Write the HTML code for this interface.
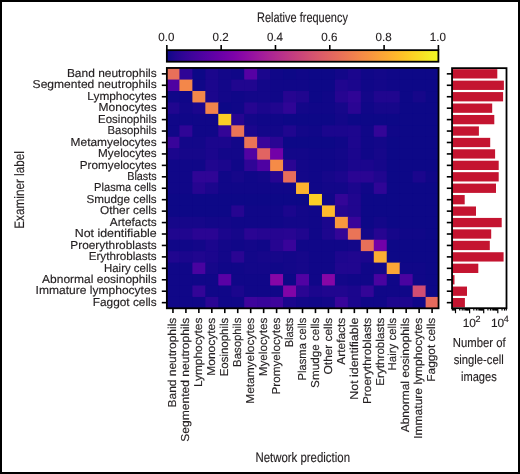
<!DOCTYPE html><html><head><meta charset="utf-8"><style>html,body{margin:0;padding:0;background:#fff;}svg{display:block;will-change:transform;}text{font-family:"Liberation Sans",sans-serif;text-rendering:geometricPrecision;fill:#231f20;stroke:#231f20;stroke-width:0.15px;}</style></head><body>
<svg width="520" height="474" viewBox="0 0 520 474">
<rect x="0" y="0" width="520" height="474" fill="#fff"/>
<defs><linearGradient id="g" x1="0" x2="1" y1="0" y2="0">
<stop offset="0.0000" stop-color="#0d0887"/>
<stop offset="0.0312" stop-color="#220690"/>
<stop offset="0.0625" stop-color="#310597"/>
<stop offset="0.0938" stop-color="#3f049c"/>
<stop offset="0.1250" stop-color="#4c02a1"/>
<stop offset="0.1562" stop-color="#5901a5"/>
<stop offset="0.1875" stop-color="#6600a7"/>
<stop offset="0.2188" stop-color="#7201a8"/>
<stop offset="0.2500" stop-color="#7e03a8"/>
<stop offset="0.2812" stop-color="#8a09a5"/>
<stop offset="0.3125" stop-color="#9511a1"/>
<stop offset="0.3438" stop-color="#a01a9c"/>
<stop offset="0.3750" stop-color="#aa2395"/>
<stop offset="0.4062" stop-color="#b32c8e"/>
<stop offset="0.4375" stop-color="#bc3587"/>
<stop offset="0.4688" stop-color="#c43e7f"/>
<stop offset="0.5000" stop-color="#cc4778"/>
<stop offset="0.5312" stop-color="#d35171"/>
<stop offset="0.5625" stop-color="#da5a6a"/>
<stop offset="0.5938" stop-color="#e06363"/>
<stop offset="0.6250" stop-color="#e66c5c"/>
<stop offset="0.6562" stop-color="#eb7655"/>
<stop offset="0.6875" stop-color="#f0804e"/>
<stop offset="0.7188" stop-color="#f58b47"/>
<stop offset="0.7500" stop-color="#f89540"/>
<stop offset="0.7812" stop-color="#fba139"/>
<stop offset="0.8125" stop-color="#fdac33"/>
<stop offset="0.8438" stop-color="#feb82c"/>
<stop offset="0.8750" stop-color="#fdc527"/>
<stop offset="0.9062" stop-color="#fcd225"/>
<stop offset="0.9375" stop-color="#f8df25"/>
<stop offset="0.9688" stop-color="#f4ed27"/>
<stop offset="1.0000" stop-color="#f0f921"/>
</linearGradient></defs>
<text x="257" y="21.9" font-size="13.7" textLength="90.9" lengthAdjust="spacingAndGlyphs">Relative frequency</text>
<rect x="166.85" y="50.15" width="271.55" height="11.55" fill="url(#g)" stroke="#000" stroke-width="1.8"/>
<line x1="166.85" x2="166.85" y1="45" y2="50.15" stroke="#000" stroke-width="1.6"/>
<text x="166.35" y="40.8" font-size="11.9" text-anchor="middle" textLength="16.1" lengthAdjust="spacingAndGlyphs">0.0</text>
<line x1="221.16" x2="221.16" y1="45" y2="50.15" stroke="#000" stroke-width="1.6"/>
<text x="220.66" y="40.8" font-size="11.9" text-anchor="middle" textLength="16.1" lengthAdjust="spacingAndGlyphs">0.2</text>
<line x1="275.47" x2="275.47" y1="45" y2="50.15" stroke="#000" stroke-width="1.6"/>
<text x="274.97" y="40.8" font-size="11.9" text-anchor="middle" textLength="16.1" lengthAdjust="spacingAndGlyphs">0.4</text>
<line x1="329.78" x2="329.78" y1="45" y2="50.15" stroke="#000" stroke-width="1.6"/>
<text x="329.28" y="40.8" font-size="11.9" text-anchor="middle" textLength="16.1" lengthAdjust="spacingAndGlyphs">0.6</text>
<line x1="384.09" x2="384.09" y1="45" y2="50.15" stroke="#000" stroke-width="1.6"/>
<text x="383.59" y="40.8" font-size="11.9" text-anchor="middle" textLength="16.1" lengthAdjust="spacingAndGlyphs">0.8</text>
<line x1="438.40" x2="438.40" y1="45" y2="50.15" stroke="#000" stroke-width="1.6"/>
<text x="437.90" y="40.8" font-size="11.9" text-anchor="middle" textLength="16.1" lengthAdjust="spacingAndGlyphs">1.0</text>
<rect x="166.470" y="68.130" width="272.097" height="240.240" fill="#0d0887"/>
<rect x="166.470" y="68.130" width="13.557" height="12.040" fill="#e87059"/>
<rect x="179.427" y="68.130" width="13.557" height="12.040" fill="#2f0596"/>
<rect x="192.384" y="68.130" width="13.557" height="12.040" fill="#0d0887"/>
<rect x="205.341" y="68.130" width="13.557" height="12.040" fill="#1b068d"/>
<rect x="218.298" y="68.130" width="13.557" height="12.040" fill="#130789"/>
<rect x="231.255" y="68.130" width="13.557" height="12.040" fill="#100788"/>
<rect x="244.212" y="68.130" width="13.557" height="12.040" fill="#5601a4"/>
<rect x="257.169" y="68.130" width="13.557" height="12.040" fill="#1b068d"/>
<rect x="270.126" y="68.130" width="13.557" height="12.040" fill="#100788"/>
<rect x="283.083" y="68.130" width="13.557" height="12.040" fill="#0d0887"/>
<rect x="296.040" y="68.130" width="13.557" height="12.040" fill="#100788"/>
<rect x="308.997" y="68.130" width="13.557" height="12.040" fill="#0d0887"/>
<rect x="321.954" y="68.130" width="13.557" height="12.040" fill="#0d0887"/>
<rect x="334.911" y="68.130" width="13.557" height="12.040" fill="#130789"/>
<rect x="347.868" y="68.130" width="13.557" height="12.040" fill="#1b068d"/>
<rect x="360.825" y="68.130" width="13.557" height="12.040" fill="#100788"/>
<rect x="373.782" y="68.130" width="13.557" height="12.040" fill="#130789"/>
<rect x="386.739" y="68.130" width="13.557" height="12.040" fill="#100788"/>
<rect x="399.696" y="68.130" width="13.557" height="12.040" fill="#0d0887"/>
<rect x="412.653" y="68.130" width="13.557" height="12.040" fill="#0d0887"/>
<rect x="425.610" y="68.130" width="12.957" height="12.040" fill="#0d0887"/>
<rect x="166.470" y="79.570" width="13.557" height="12.040" fill="#4e02a2"/>
<rect x="179.427" y="79.570" width="13.557" height="12.040" fill="#f3874a"/>
<rect x="192.384" y="79.570" width="13.557" height="12.040" fill="#100788"/>
<rect x="205.341" y="79.570" width="13.557" height="12.040" fill="#1b068d"/>
<rect x="218.298" y="79.570" width="13.557" height="12.040" fill="#130789"/>
<rect x="231.255" y="79.570" width="13.557" height="12.040" fill="#20068f"/>
<rect x="244.212" y="79.570" width="13.557" height="12.040" fill="#20068f"/>
<rect x="257.169" y="79.570" width="13.557" height="12.040" fill="#130789"/>
<rect x="270.126" y="79.570" width="13.557" height="12.040" fill="#100788"/>
<rect x="283.083" y="79.570" width="13.557" height="12.040" fill="#100788"/>
<rect x="296.040" y="79.570" width="13.557" height="12.040" fill="#100788"/>
<rect x="308.997" y="79.570" width="13.557" height="12.040" fill="#0d0887"/>
<rect x="321.954" y="79.570" width="13.557" height="12.040" fill="#0d0887"/>
<rect x="334.911" y="79.570" width="13.557" height="12.040" fill="#20068f"/>
<rect x="347.868" y="79.570" width="13.557" height="12.040" fill="#1b068d"/>
<rect x="360.825" y="79.570" width="13.557" height="12.040" fill="#100788"/>
<rect x="373.782" y="79.570" width="13.557" height="12.040" fill="#130789"/>
<rect x="386.739" y="79.570" width="13.557" height="12.040" fill="#100788"/>
<rect x="399.696" y="79.570" width="13.557" height="12.040" fill="#0d0887"/>
<rect x="412.653" y="79.570" width="13.557" height="12.040" fill="#0d0887"/>
<rect x="425.610" y="79.570" width="12.957" height="12.040" fill="#0d0887"/>
<rect x="166.470" y="91.010" width="13.557" height="12.040" fill="#100788"/>
<rect x="179.427" y="91.010" width="13.557" height="12.040" fill="#100788"/>
<rect x="192.384" y="91.010" width="13.557" height="12.040" fill="#f3874a"/>
<rect x="205.341" y="91.010" width="13.557" height="12.040" fill="#1b068d"/>
<rect x="218.298" y="91.010" width="13.557" height="12.040" fill="#130789"/>
<rect x="231.255" y="91.010" width="13.557" height="12.040" fill="#100788"/>
<rect x="244.212" y="91.010" width="13.557" height="12.040" fill="#130789"/>
<rect x="257.169" y="91.010" width="13.557" height="12.040" fill="#130789"/>
<rect x="270.126" y="91.010" width="13.557" height="12.040" fill="#100788"/>
<rect x="283.083" y="91.010" width="13.557" height="12.040" fill="#260591"/>
<rect x="296.040" y="91.010" width="13.557" height="12.040" fill="#20068f"/>
<rect x="308.997" y="91.010" width="13.557" height="12.040" fill="#0d0887"/>
<rect x="321.954" y="91.010" width="13.557" height="12.040" fill="#100788"/>
<rect x="334.911" y="91.010" width="13.557" height="12.040" fill="#260591"/>
<rect x="347.868" y="91.010" width="13.557" height="12.040" fill="#2f0596"/>
<rect x="360.825" y="91.010" width="13.557" height="12.040" fill="#130789"/>
<rect x="373.782" y="91.010" width="13.557" height="12.040" fill="#20068f"/>
<rect x="386.739" y="91.010" width="13.557" height="12.040" fill="#20068f"/>
<rect x="399.696" y="91.010" width="13.557" height="12.040" fill="#0d0887"/>
<rect x="412.653" y="91.010" width="13.557" height="12.040" fill="#16078a"/>
<rect x="425.610" y="91.010" width="12.957" height="12.040" fill="#0d0887"/>
<rect x="166.470" y="102.450" width="13.557" height="12.040" fill="#20068f"/>
<rect x="179.427" y="102.450" width="13.557" height="12.040" fill="#130789"/>
<rect x="192.384" y="102.450" width="13.557" height="12.040" fill="#1b068d"/>
<rect x="205.341" y="102.450" width="13.557" height="12.040" fill="#f2844b"/>
<rect x="218.298" y="102.450" width="13.557" height="12.040" fill="#0d0887"/>
<rect x="231.255" y="102.450" width="13.557" height="12.040" fill="#100788"/>
<rect x="244.212" y="102.450" width="13.557" height="12.040" fill="#260591"/>
<rect x="257.169" y="102.450" width="13.557" height="12.040" fill="#1b068d"/>
<rect x="270.126" y="102.450" width="13.557" height="12.040" fill="#20068f"/>
<rect x="283.083" y="102.450" width="13.557" height="12.040" fill="#2f0596"/>
<rect x="296.040" y="102.450" width="13.557" height="12.040" fill="#130789"/>
<rect x="308.997" y="102.450" width="13.557" height="12.040" fill="#100788"/>
<rect x="321.954" y="102.450" width="13.557" height="12.040" fill="#100788"/>
<rect x="334.911" y="102.450" width="13.557" height="12.040" fill="#16078a"/>
<rect x="347.868" y="102.450" width="13.557" height="12.040" fill="#2a0593"/>
<rect x="360.825" y="102.450" width="13.557" height="12.040" fill="#100788"/>
<rect x="373.782" y="102.450" width="13.557" height="12.040" fill="#16078a"/>
<rect x="386.739" y="102.450" width="13.557" height="12.040" fill="#16078a"/>
<rect x="399.696" y="102.450" width="13.557" height="12.040" fill="#0d0887"/>
<rect x="412.653" y="102.450" width="13.557" height="12.040" fill="#0d0887"/>
<rect x="425.610" y="102.450" width="12.957" height="12.040" fill="#0d0887"/>
<rect x="166.470" y="113.890" width="13.557" height="12.040" fill="#100788"/>
<rect x="179.427" y="113.890" width="13.557" height="12.040" fill="#100788"/>
<rect x="192.384" y="113.890" width="13.557" height="12.040" fill="#100788"/>
<rect x="205.341" y="113.890" width="13.557" height="12.040" fill="#100788"/>
<rect x="218.298" y="113.890" width="13.557" height="12.040" fill="#fcce25"/>
<rect x="231.255" y="113.890" width="13.557" height="12.040" fill="#260591"/>
<rect x="244.212" y="113.890" width="13.557" height="12.040" fill="#130789"/>
<rect x="257.169" y="113.890" width="13.557" height="12.040" fill="#100788"/>
<rect x="270.126" y="113.890" width="13.557" height="12.040" fill="#100788"/>
<rect x="283.083" y="113.890" width="13.557" height="12.040" fill="#0d0887"/>
<rect x="296.040" y="113.890" width="13.557" height="12.040" fill="#0d0887"/>
<rect x="308.997" y="113.890" width="13.557" height="12.040" fill="#0d0887"/>
<rect x="321.954" y="113.890" width="13.557" height="12.040" fill="#0d0887"/>
<rect x="334.911" y="113.890" width="13.557" height="12.040" fill="#130789"/>
<rect x="347.868" y="113.890" width="13.557" height="12.040" fill="#0d0887"/>
<rect x="360.825" y="113.890" width="13.557" height="12.040" fill="#0d0887"/>
<rect x="373.782" y="113.890" width="13.557" height="12.040" fill="#0d0887"/>
<rect x="386.739" y="113.890" width="13.557" height="12.040" fill="#0d0887"/>
<rect x="399.696" y="113.890" width="13.557" height="12.040" fill="#0d0887"/>
<rect x="412.653" y="113.890" width="13.557" height="12.040" fill="#0d0887"/>
<rect x="425.610" y="113.890" width="12.957" height="12.040" fill="#0d0887"/>
<rect x="166.470" y="125.330" width="13.557" height="12.040" fill="#100788"/>
<rect x="179.427" y="125.330" width="13.557" height="12.040" fill="#2f0596"/>
<rect x="192.384" y="125.330" width="13.557" height="12.040" fill="#100788"/>
<rect x="205.341" y="125.330" width="13.557" height="12.040" fill="#100788"/>
<rect x="218.298" y="125.330" width="13.557" height="12.040" fill="#330597"/>
<rect x="231.255" y="125.330" width="13.557" height="12.040" fill="#ea7457"/>
<rect x="244.212" y="125.330" width="13.557" height="12.040" fill="#1b068d"/>
<rect x="257.169" y="125.330" width="13.557" height="12.040" fill="#130789"/>
<rect x="270.126" y="125.330" width="13.557" height="12.040" fill="#130789"/>
<rect x="283.083" y="125.330" width="13.557" height="12.040" fill="#20068f"/>
<rect x="296.040" y="125.330" width="13.557" height="12.040" fill="#130789"/>
<rect x="308.997" y="125.330" width="13.557" height="12.040" fill="#100788"/>
<rect x="321.954" y="125.330" width="13.557" height="12.040" fill="#1b068d"/>
<rect x="334.911" y="125.330" width="13.557" height="12.040" fill="#1b068d"/>
<rect x="347.868" y="125.330" width="13.557" height="12.040" fill="#1d068e"/>
<rect x="360.825" y="125.330" width="13.557" height="12.040" fill="#100788"/>
<rect x="373.782" y="125.330" width="13.557" height="12.040" fill="#330597"/>
<rect x="386.739" y="125.330" width="13.557" height="12.040" fill="#100788"/>
<rect x="399.696" y="125.330" width="13.557" height="12.040" fill="#0d0887"/>
<rect x="412.653" y="125.330" width="13.557" height="12.040" fill="#0d0887"/>
<rect x="425.610" y="125.330" width="12.957" height="12.040" fill="#0d0887"/>
<rect x="166.470" y="136.770" width="13.557" height="12.040" fill="#38049a"/>
<rect x="179.427" y="136.770" width="13.557" height="12.040" fill="#130789"/>
<rect x="192.384" y="136.770" width="13.557" height="12.040" fill="#130789"/>
<rect x="205.341" y="136.770" width="13.557" height="12.040" fill="#1b068d"/>
<rect x="218.298" y="136.770" width="13.557" height="12.040" fill="#1b068d"/>
<rect x="231.255" y="136.770" width="13.557" height="12.040" fill="#130789"/>
<rect x="244.212" y="136.770" width="13.557" height="12.040" fill="#ea7457"/>
<rect x="257.169" y="136.770" width="13.557" height="12.040" fill="#38049a"/>
<rect x="270.126" y="136.770" width="13.557" height="12.040" fill="#2a0593"/>
<rect x="283.083" y="136.770" width="13.557" height="12.040" fill="#0d0887"/>
<rect x="296.040" y="136.770" width="13.557" height="12.040" fill="#0d0887"/>
<rect x="308.997" y="136.770" width="13.557" height="12.040" fill="#0d0887"/>
<rect x="321.954" y="136.770" width="13.557" height="12.040" fill="#0d0887"/>
<rect x="334.911" y="136.770" width="13.557" height="12.040" fill="#100788"/>
<rect x="347.868" y="136.770" width="13.557" height="12.040" fill="#1d068e"/>
<rect x="360.825" y="136.770" width="13.557" height="12.040" fill="#100788"/>
<rect x="373.782" y="136.770" width="13.557" height="12.040" fill="#130789"/>
<rect x="386.739" y="136.770" width="13.557" height="12.040" fill="#0d0887"/>
<rect x="399.696" y="136.770" width="13.557" height="12.040" fill="#0d0887"/>
<rect x="412.653" y="136.770" width="13.557" height="12.040" fill="#0d0887"/>
<rect x="425.610" y="136.770" width="12.957" height="12.040" fill="#0d0887"/>
<rect x="166.470" y="148.210" width="13.557" height="12.040" fill="#1b068d"/>
<rect x="179.427" y="148.210" width="13.557" height="12.040" fill="#16078a"/>
<rect x="192.384" y="148.210" width="13.557" height="12.040" fill="#16078a"/>
<rect x="205.341" y="148.210" width="13.557" height="12.040" fill="#1b068d"/>
<rect x="218.298" y="148.210" width="13.557" height="12.040" fill="#130789"/>
<rect x="231.255" y="148.210" width="13.557" height="12.040" fill="#130789"/>
<rect x="244.212" y="148.210" width="13.557" height="12.040" fill="#5102a3"/>
<rect x="257.169" y="148.210" width="13.557" height="12.040" fill="#e16462"/>
<rect x="270.126" y="148.210" width="13.557" height="12.040" fill="#7201a8"/>
<rect x="283.083" y="148.210" width="13.557" height="12.040" fill="#130789"/>
<rect x="296.040" y="148.210" width="13.557" height="12.040" fill="#130789"/>
<rect x="308.997" y="148.210" width="13.557" height="12.040" fill="#100788"/>
<rect x="321.954" y="148.210" width="13.557" height="12.040" fill="#100788"/>
<rect x="334.911" y="148.210" width="13.557" height="12.040" fill="#130789"/>
<rect x="347.868" y="148.210" width="13.557" height="12.040" fill="#1b068d"/>
<rect x="360.825" y="148.210" width="13.557" height="12.040" fill="#100788"/>
<rect x="373.782" y="148.210" width="13.557" height="12.040" fill="#16078a"/>
<rect x="386.739" y="148.210" width="13.557" height="12.040" fill="#0d0887"/>
<rect x="399.696" y="148.210" width="13.557" height="12.040" fill="#0d0887"/>
<rect x="412.653" y="148.210" width="13.557" height="12.040" fill="#0d0887"/>
<rect x="425.610" y="148.210" width="12.957" height="12.040" fill="#0d0887"/>
<rect x="166.470" y="159.650" width="13.557" height="12.040" fill="#100788"/>
<rect x="179.427" y="159.650" width="13.557" height="12.040" fill="#100788"/>
<rect x="192.384" y="159.650" width="13.557" height="12.040" fill="#100788"/>
<rect x="205.341" y="159.650" width="13.557" height="12.040" fill="#20068f"/>
<rect x="218.298" y="159.650" width="13.557" height="12.040" fill="#1b068d"/>
<rect x="231.255" y="159.650" width="13.557" height="12.040" fill="#100788"/>
<rect x="244.212" y="159.650" width="13.557" height="12.040" fill="#2f0596"/>
<rect x="257.169" y="159.650" width="13.557" height="12.040" fill="#4e02a2"/>
<rect x="270.126" y="159.650" width="13.557" height="12.040" fill="#f58b47"/>
<rect x="283.083" y="159.650" width="13.557" height="12.040" fill="#2a0593"/>
<rect x="296.040" y="159.650" width="13.557" height="12.040" fill="#130789"/>
<rect x="308.997" y="159.650" width="13.557" height="12.040" fill="#100788"/>
<rect x="321.954" y="159.650" width="13.557" height="12.040" fill="#100788"/>
<rect x="334.911" y="159.650" width="13.557" height="12.040" fill="#130789"/>
<rect x="347.868" y="159.650" width="13.557" height="12.040" fill="#1b068d"/>
<rect x="360.825" y="159.650" width="13.557" height="12.040" fill="#1b068d"/>
<rect x="373.782" y="159.650" width="13.557" height="12.040" fill="#16078a"/>
<rect x="386.739" y="159.650" width="13.557" height="12.040" fill="#0d0887"/>
<rect x="399.696" y="159.650" width="13.557" height="12.040" fill="#0d0887"/>
<rect x="412.653" y="159.650" width="13.557" height="12.040" fill="#0d0887"/>
<rect x="425.610" y="159.650" width="12.957" height="12.040" fill="#0d0887"/>
<rect x="166.470" y="171.090" width="13.557" height="12.040" fill="#100788"/>
<rect x="179.427" y="171.090" width="13.557" height="12.040" fill="#100788"/>
<rect x="192.384" y="171.090" width="13.557" height="12.040" fill="#2f0596"/>
<rect x="205.341" y="171.090" width="13.557" height="12.040" fill="#2f0596"/>
<rect x="218.298" y="171.090" width="13.557" height="12.040" fill="#100788"/>
<rect x="231.255" y="171.090" width="13.557" height="12.040" fill="#16078a"/>
<rect x="244.212" y="171.090" width="13.557" height="12.040" fill="#100788"/>
<rect x="257.169" y="171.090" width="13.557" height="12.040" fill="#130789"/>
<rect x="270.126" y="171.090" width="13.557" height="12.040" fill="#260591"/>
<rect x="283.083" y="171.090" width="13.557" height="12.040" fill="#e76e5b"/>
<rect x="296.040" y="171.090" width="13.557" height="12.040" fill="#130789"/>
<rect x="308.997" y="171.090" width="13.557" height="12.040" fill="#100788"/>
<rect x="321.954" y="171.090" width="13.557" height="12.040" fill="#16078a"/>
<rect x="334.911" y="171.090" width="13.557" height="12.040" fill="#1b068d"/>
<rect x="347.868" y="171.090" width="13.557" height="12.040" fill="#2a0593"/>
<rect x="360.825" y="171.090" width="13.557" height="12.040" fill="#2a0593"/>
<rect x="373.782" y="171.090" width="13.557" height="12.040" fill="#20068f"/>
<rect x="386.739" y="171.090" width="13.557" height="12.040" fill="#0d0887"/>
<rect x="399.696" y="171.090" width="13.557" height="12.040" fill="#0d0887"/>
<rect x="412.653" y="171.090" width="13.557" height="12.040" fill="#1b068d"/>
<rect x="425.610" y="171.090" width="12.957" height="12.040" fill="#100788"/>
<rect x="166.470" y="182.530" width="13.557" height="12.040" fill="#100788"/>
<rect x="179.427" y="182.530" width="13.557" height="12.040" fill="#100788"/>
<rect x="192.384" y="182.530" width="13.557" height="12.040" fill="#260591"/>
<rect x="205.341" y="182.530" width="13.557" height="12.040" fill="#1b068d"/>
<rect x="218.298" y="182.530" width="13.557" height="12.040" fill="#100788"/>
<rect x="231.255" y="182.530" width="13.557" height="12.040" fill="#100788"/>
<rect x="244.212" y="182.530" width="13.557" height="12.040" fill="#100788"/>
<rect x="257.169" y="182.530" width="13.557" height="12.040" fill="#100788"/>
<rect x="270.126" y="182.530" width="13.557" height="12.040" fill="#100788"/>
<rect x="283.083" y="182.530" width="13.557" height="12.040" fill="#100788"/>
<rect x="296.040" y="182.530" width="13.557" height="12.040" fill="#fdb22f"/>
<rect x="308.997" y="182.530" width="13.557" height="12.040" fill="#100788"/>
<rect x="321.954" y="182.530" width="13.557" height="12.040" fill="#130789"/>
<rect x="334.911" y="182.530" width="13.557" height="12.040" fill="#130789"/>
<rect x="347.868" y="182.530" width="13.557" height="12.040" fill="#1b068d"/>
<rect x="360.825" y="182.530" width="13.557" height="12.040" fill="#100788"/>
<rect x="373.782" y="182.530" width="13.557" height="12.040" fill="#2f0596"/>
<rect x="386.739" y="182.530" width="13.557" height="12.040" fill="#0d0887"/>
<rect x="399.696" y="182.530" width="13.557" height="12.040" fill="#0d0887"/>
<rect x="412.653" y="182.530" width="13.557" height="12.040" fill="#0d0887"/>
<rect x="425.610" y="182.530" width="12.957" height="12.040" fill="#0d0887"/>
<rect x="166.470" y="193.970" width="13.557" height="12.040" fill="#0d0887"/>
<rect x="179.427" y="193.970" width="13.557" height="12.040" fill="#0d0887"/>
<rect x="192.384" y="193.970" width="13.557" height="12.040" fill="#0d0887"/>
<rect x="205.341" y="193.970" width="13.557" height="12.040" fill="#0d0887"/>
<rect x="218.298" y="193.970" width="13.557" height="12.040" fill="#0d0887"/>
<rect x="231.255" y="193.970" width="13.557" height="12.040" fill="#0d0887"/>
<rect x="244.212" y="193.970" width="13.557" height="12.040" fill="#0d0887"/>
<rect x="257.169" y="193.970" width="13.557" height="12.040" fill="#0d0887"/>
<rect x="270.126" y="193.970" width="13.557" height="12.040" fill="#0d0887"/>
<rect x="283.083" y="193.970" width="13.557" height="12.040" fill="#0d0887"/>
<rect x="296.040" y="193.970" width="13.557" height="12.040" fill="#0d0887"/>
<rect x="308.997" y="193.970" width="13.557" height="12.040" fill="#fcce25"/>
<rect x="321.954" y="193.970" width="13.557" height="12.040" fill="#100788"/>
<rect x="334.911" y="193.970" width="13.557" height="12.040" fill="#330597"/>
<rect x="347.868" y="193.970" width="13.557" height="12.040" fill="#20068f"/>
<rect x="360.825" y="193.970" width="13.557" height="12.040" fill="#0d0887"/>
<rect x="373.782" y="193.970" width="13.557" height="12.040" fill="#0d0887"/>
<rect x="386.739" y="193.970" width="13.557" height="12.040" fill="#0d0887"/>
<rect x="399.696" y="193.970" width="13.557" height="12.040" fill="#0d0887"/>
<rect x="412.653" y="193.970" width="13.557" height="12.040" fill="#0d0887"/>
<rect x="425.610" y="193.970" width="12.957" height="12.040" fill="#0d0887"/>
<rect x="166.470" y="205.410" width="13.557" height="12.040" fill="#0d0887"/>
<rect x="179.427" y="205.410" width="13.557" height="12.040" fill="#0d0887"/>
<rect x="192.384" y="205.410" width="13.557" height="12.040" fill="#0d0887"/>
<rect x="205.341" y="205.410" width="13.557" height="12.040" fill="#0d0887"/>
<rect x="218.298" y="205.410" width="13.557" height="12.040" fill="#0d0887"/>
<rect x="231.255" y="205.410" width="13.557" height="12.040" fill="#260591"/>
<rect x="244.212" y="205.410" width="13.557" height="12.040" fill="#100788"/>
<rect x="257.169" y="205.410" width="13.557" height="12.040" fill="#100788"/>
<rect x="270.126" y="205.410" width="13.557" height="12.040" fill="#100788"/>
<rect x="283.083" y="205.410" width="13.557" height="12.040" fill="#1b068d"/>
<rect x="296.040" y="205.410" width="13.557" height="12.040" fill="#130789"/>
<rect x="308.997" y="205.410" width="13.557" height="12.040" fill="#100788"/>
<rect x="321.954" y="205.410" width="13.557" height="12.040" fill="#feba2c"/>
<rect x="334.911" y="205.410" width="13.557" height="12.040" fill="#260591"/>
<rect x="347.868" y="205.410" width="13.557" height="12.040" fill="#20068f"/>
<rect x="360.825" y="205.410" width="13.557" height="12.040" fill="#0d0887"/>
<rect x="373.782" y="205.410" width="13.557" height="12.040" fill="#0d0887"/>
<rect x="386.739" y="205.410" width="13.557" height="12.040" fill="#0d0887"/>
<rect x="399.696" y="205.410" width="13.557" height="12.040" fill="#0d0887"/>
<rect x="412.653" y="205.410" width="13.557" height="12.040" fill="#0d0887"/>
<rect x="425.610" y="205.410" width="12.957" height="12.040" fill="#0d0887"/>
<rect x="166.470" y="216.850" width="13.557" height="12.040" fill="#16078a"/>
<rect x="179.427" y="216.850" width="13.557" height="12.040" fill="#16078a"/>
<rect x="192.384" y="216.850" width="13.557" height="12.040" fill="#16078a"/>
<rect x="205.341" y="216.850" width="13.557" height="12.040" fill="#130789"/>
<rect x="218.298" y="216.850" width="13.557" height="12.040" fill="#130789"/>
<rect x="231.255" y="216.850" width="13.557" height="12.040" fill="#100788"/>
<rect x="244.212" y="216.850" width="13.557" height="12.040" fill="#100788"/>
<rect x="257.169" y="216.850" width="13.557" height="12.040" fill="#100788"/>
<rect x="270.126" y="216.850" width="13.557" height="12.040" fill="#100788"/>
<rect x="283.083" y="216.850" width="13.557" height="12.040" fill="#130789"/>
<rect x="296.040" y="216.850" width="13.557" height="12.040" fill="#130789"/>
<rect x="308.997" y="216.850" width="13.557" height="12.040" fill="#100788"/>
<rect x="321.954" y="216.850" width="13.557" height="12.040" fill="#1b068d"/>
<rect x="334.911" y="216.850" width="13.557" height="12.040" fill="#f9983e"/>
<rect x="347.868" y="216.850" width="13.557" height="12.040" fill="#38049a"/>
<rect x="360.825" y="216.850" width="13.557" height="12.040" fill="#0d0887"/>
<rect x="373.782" y="216.850" width="13.557" height="12.040" fill="#130789"/>
<rect x="386.739" y="216.850" width="13.557" height="12.040" fill="#0d0887"/>
<rect x="399.696" y="216.850" width="13.557" height="12.040" fill="#0d0887"/>
<rect x="412.653" y="216.850" width="13.557" height="12.040" fill="#0d0887"/>
<rect x="425.610" y="216.850" width="12.957" height="12.040" fill="#0d0887"/>
<rect x="166.470" y="228.290" width="13.557" height="12.040" fill="#20068f"/>
<rect x="179.427" y="228.290" width="13.557" height="12.040" fill="#20068f"/>
<rect x="192.384" y="228.290" width="13.557" height="12.040" fill="#2a0593"/>
<rect x="205.341" y="228.290" width="13.557" height="12.040" fill="#2a0593"/>
<rect x="218.298" y="228.290" width="13.557" height="12.040" fill="#1b068d"/>
<rect x="231.255" y="228.290" width="13.557" height="12.040" fill="#16078a"/>
<rect x="244.212" y="228.290" width="13.557" height="12.040" fill="#2a0593"/>
<rect x="257.169" y="228.290" width="13.557" height="12.040" fill="#260591"/>
<rect x="270.126" y="228.290" width="13.557" height="12.040" fill="#260591"/>
<rect x="283.083" y="228.290" width="13.557" height="12.040" fill="#280592"/>
<rect x="296.040" y="228.290" width="13.557" height="12.040" fill="#20068f"/>
<rect x="308.997" y="228.290" width="13.557" height="12.040" fill="#100788"/>
<rect x="321.954" y="228.290" width="13.557" height="12.040" fill="#1d068e"/>
<rect x="334.911" y="228.290" width="13.557" height="12.040" fill="#330597"/>
<rect x="347.868" y="228.290" width="13.557" height="12.040" fill="#ea7457"/>
<rect x="360.825" y="228.290" width="13.557" height="12.040" fill="#130789"/>
<rect x="373.782" y="228.290" width="13.557" height="12.040" fill="#260591"/>
<rect x="386.739" y="228.290" width="13.557" height="12.040" fill="#16078a"/>
<rect x="399.696" y="228.290" width="13.557" height="12.040" fill="#100788"/>
<rect x="412.653" y="228.290" width="13.557" height="12.040" fill="#100788"/>
<rect x="425.610" y="228.290" width="12.957" height="12.040" fill="#0d0887"/>
<rect x="166.470" y="239.730" width="13.557" height="12.040" fill="#100788"/>
<rect x="179.427" y="239.730" width="13.557" height="12.040" fill="#100788"/>
<rect x="192.384" y="239.730" width="13.557" height="12.040" fill="#130789"/>
<rect x="205.341" y="239.730" width="13.557" height="12.040" fill="#1b068d"/>
<rect x="218.298" y="239.730" width="13.557" height="12.040" fill="#130789"/>
<rect x="231.255" y="239.730" width="13.557" height="12.040" fill="#100788"/>
<rect x="244.212" y="239.730" width="13.557" height="12.040" fill="#130789"/>
<rect x="257.169" y="239.730" width="13.557" height="12.040" fill="#100788"/>
<rect x="270.126" y="239.730" width="13.557" height="12.040" fill="#260591"/>
<rect x="283.083" y="239.730" width="13.557" height="12.040" fill="#38049a"/>
<rect x="296.040" y="239.730" width="13.557" height="12.040" fill="#100788"/>
<rect x="308.997" y="239.730" width="13.557" height="12.040" fill="#100788"/>
<rect x="321.954" y="239.730" width="13.557" height="12.040" fill="#100788"/>
<rect x="334.911" y="239.730" width="13.557" height="12.040" fill="#100788"/>
<rect x="347.868" y="239.730" width="13.557" height="12.040" fill="#130789"/>
<rect x="360.825" y="239.730" width="13.557" height="12.040" fill="#e87059"/>
<rect x="373.782" y="239.730" width="13.557" height="12.040" fill="#7201a8"/>
<rect x="386.739" y="239.730" width="13.557" height="12.040" fill="#0d0887"/>
<rect x="399.696" y="239.730" width="13.557" height="12.040" fill="#0d0887"/>
<rect x="412.653" y="239.730" width="13.557" height="12.040" fill="#0d0887"/>
<rect x="425.610" y="239.730" width="12.957" height="12.040" fill="#0d0887"/>
<rect x="166.470" y="251.170" width="13.557" height="12.040" fill="#20068f"/>
<rect x="179.427" y="251.170" width="13.557" height="12.040" fill="#1b068d"/>
<rect x="192.384" y="251.170" width="13.557" height="12.040" fill="#20068f"/>
<rect x="205.341" y="251.170" width="13.557" height="12.040" fill="#1b068d"/>
<rect x="218.298" y="251.170" width="13.557" height="12.040" fill="#130789"/>
<rect x="231.255" y="251.170" width="13.557" height="12.040" fill="#2a0593"/>
<rect x="244.212" y="251.170" width="13.557" height="12.040" fill="#130789"/>
<rect x="257.169" y="251.170" width="13.557" height="12.040" fill="#16078a"/>
<rect x="270.126" y="251.170" width="13.557" height="12.040" fill="#16078a"/>
<rect x="283.083" y="251.170" width="13.557" height="12.040" fill="#130789"/>
<rect x="296.040" y="251.170" width="13.557" height="12.040" fill="#16078a"/>
<rect x="308.997" y="251.170" width="13.557" height="12.040" fill="#100788"/>
<rect x="321.954" y="251.170" width="13.557" height="12.040" fill="#100788"/>
<rect x="334.911" y="251.170" width="13.557" height="12.040" fill="#1d068e"/>
<rect x="347.868" y="251.170" width="13.557" height="12.040" fill="#20068f"/>
<rect x="360.825" y="251.170" width="13.557" height="12.040" fill="#1b068d"/>
<rect x="373.782" y="251.170" width="13.557" height="12.040" fill="#fdae32"/>
<rect x="386.739" y="251.170" width="13.557" height="12.040" fill="#0d0887"/>
<rect x="399.696" y="251.170" width="13.557" height="12.040" fill="#0d0887"/>
<rect x="412.653" y="251.170" width="13.557" height="12.040" fill="#0d0887"/>
<rect x="425.610" y="251.170" width="12.957" height="12.040" fill="#0d0887"/>
<rect x="166.470" y="262.610" width="13.557" height="12.040" fill="#100788"/>
<rect x="179.427" y="262.610" width="13.557" height="12.040" fill="#100788"/>
<rect x="192.384" y="262.610" width="13.557" height="12.040" fill="#4903a0"/>
<rect x="205.341" y="262.610" width="13.557" height="12.040" fill="#16078a"/>
<rect x="218.298" y="262.610" width="13.557" height="12.040" fill="#100788"/>
<rect x="231.255" y="262.610" width="13.557" height="12.040" fill="#100788"/>
<rect x="244.212" y="262.610" width="13.557" height="12.040" fill="#130789"/>
<rect x="257.169" y="262.610" width="13.557" height="12.040" fill="#130789"/>
<rect x="270.126" y="262.610" width="13.557" height="12.040" fill="#100788"/>
<rect x="283.083" y="262.610" width="13.557" height="12.040" fill="#130789"/>
<rect x="296.040" y="262.610" width="13.557" height="12.040" fill="#16078a"/>
<rect x="308.997" y="262.610" width="13.557" height="12.040" fill="#100788"/>
<rect x="321.954" y="262.610" width="13.557" height="12.040" fill="#100788"/>
<rect x="334.911" y="262.610" width="13.557" height="12.040" fill="#20068f"/>
<rect x="347.868" y="262.610" width="13.557" height="12.040" fill="#20068f"/>
<rect x="360.825" y="262.610" width="13.557" height="12.040" fill="#100788"/>
<rect x="373.782" y="262.610" width="13.557" height="12.040" fill="#130789"/>
<rect x="386.739" y="262.610" width="13.557" height="12.040" fill="#fca636"/>
<rect x="399.696" y="262.610" width="13.557" height="12.040" fill="#100788"/>
<rect x="412.653" y="262.610" width="13.557" height="12.040" fill="#100788"/>
<rect x="425.610" y="262.610" width="12.957" height="12.040" fill="#0d0887"/>
<rect x="166.470" y="274.050" width="13.557" height="12.040" fill="#100788"/>
<rect x="179.427" y="274.050" width="13.557" height="12.040" fill="#100788"/>
<rect x="192.384" y="274.050" width="13.557" height="12.040" fill="#100788"/>
<rect x="205.341" y="274.050" width="13.557" height="12.040" fill="#100788"/>
<rect x="218.298" y="274.050" width="13.557" height="12.040" fill="#5901a5"/>
<rect x="231.255" y="274.050" width="13.557" height="12.040" fill="#100788"/>
<rect x="244.212" y="274.050" width="13.557" height="12.040" fill="#100788"/>
<rect x="257.169" y="274.050" width="13.557" height="12.040" fill="#100788"/>
<rect x="270.126" y="274.050" width="13.557" height="12.040" fill="#8606a6"/>
<rect x="283.083" y="274.050" width="13.557" height="12.040" fill="#0d0887"/>
<rect x="296.040" y="274.050" width="13.557" height="12.040" fill="#5102a3"/>
<rect x="308.997" y="274.050" width="13.557" height="12.040" fill="#100788"/>
<rect x="321.954" y="274.050" width="13.557" height="12.040" fill="#8606a6"/>
<rect x="334.911" y="274.050" width="13.557" height="12.040" fill="#130789"/>
<rect x="347.868" y="274.050" width="13.557" height="12.040" fill="#100788"/>
<rect x="360.825" y="274.050" width="13.557" height="12.040" fill="#100788"/>
<rect x="373.782" y="274.050" width="13.557" height="12.040" fill="#4903a0"/>
<rect x="386.739" y="274.050" width="13.557" height="12.040" fill="#100788"/>
<rect x="399.696" y="274.050" width="13.557" height="12.040" fill="#4903a0"/>
<rect x="412.653" y="274.050" width="13.557" height="12.040" fill="#100788"/>
<rect x="425.610" y="274.050" width="12.957" height="12.040" fill="#0d0887"/>
<rect x="166.470" y="285.490" width="13.557" height="12.040" fill="#100788"/>
<rect x="179.427" y="285.490" width="13.557" height="12.040" fill="#100788"/>
<rect x="192.384" y="285.490" width="13.557" height="12.040" fill="#330597"/>
<rect x="205.341" y="285.490" width="13.557" height="12.040" fill="#100788"/>
<rect x="218.298" y="285.490" width="13.557" height="12.040" fill="#100788"/>
<rect x="231.255" y="285.490" width="13.557" height="12.040" fill="#1b068d"/>
<rect x="244.212" y="285.490" width="13.557" height="12.040" fill="#100788"/>
<rect x="257.169" y="285.490" width="13.557" height="12.040" fill="#100788"/>
<rect x="270.126" y="285.490" width="13.557" height="12.040" fill="#100788"/>
<rect x="283.083" y="285.490" width="13.557" height="12.040" fill="#8104a7"/>
<rect x="296.040" y="285.490" width="13.557" height="12.040" fill="#2a0593"/>
<rect x="308.997" y="285.490" width="13.557" height="12.040" fill="#1b068d"/>
<rect x="321.954" y="285.490" width="13.557" height="12.040" fill="#20068f"/>
<rect x="334.911" y="285.490" width="13.557" height="12.040" fill="#20068f"/>
<rect x="347.868" y="285.490" width="13.557" height="12.040" fill="#1b068d"/>
<rect x="360.825" y="285.490" width="13.557" height="12.040" fill="#330597"/>
<rect x="373.782" y="285.490" width="13.557" height="12.040" fill="#100788"/>
<rect x="386.739" y="285.490" width="13.557" height="12.040" fill="#100788"/>
<rect x="399.696" y="285.490" width="13.557" height="12.040" fill="#100788"/>
<rect x="412.653" y="285.490" width="13.557" height="12.040" fill="#d04d73"/>
<rect x="425.610" y="285.490" width="12.957" height="12.040" fill="#0d0887"/>
<rect x="166.470" y="296.930" width="13.557" height="11.440" fill="#100788"/>
<rect x="179.427" y="296.930" width="13.557" height="11.440" fill="#100788"/>
<rect x="192.384" y="296.930" width="13.557" height="11.440" fill="#100788"/>
<rect x="205.341" y="296.930" width="13.557" height="11.440" fill="#2a0593"/>
<rect x="218.298" y="296.930" width="13.557" height="11.440" fill="#100788"/>
<rect x="231.255" y="296.930" width="13.557" height="11.440" fill="#100788"/>
<rect x="244.212" y="296.930" width="13.557" height="11.440" fill="#3e049c"/>
<rect x="257.169" y="296.930" width="13.557" height="11.440" fill="#38049a"/>
<rect x="270.126" y="296.930" width="13.557" height="11.440" fill="#3e049c"/>
<rect x="283.083" y="296.930" width="13.557" height="11.440" fill="#1b068d"/>
<rect x="296.040" y="296.930" width="13.557" height="11.440" fill="#130789"/>
<rect x="308.997" y="296.930" width="13.557" height="11.440" fill="#100788"/>
<rect x="321.954" y="296.930" width="13.557" height="11.440" fill="#130789"/>
<rect x="334.911" y="296.930" width="13.557" height="11.440" fill="#38049a"/>
<rect x="347.868" y="296.930" width="13.557" height="11.440" fill="#1b068d"/>
<rect x="360.825" y="296.930" width="13.557" height="11.440" fill="#100788"/>
<rect x="373.782" y="296.930" width="13.557" height="11.440" fill="#100788"/>
<rect x="386.739" y="296.930" width="13.557" height="11.440" fill="#1d068e"/>
<rect x="399.696" y="296.930" width="13.557" height="11.440" fill="#1d068e"/>
<rect x="412.653" y="296.930" width="13.557" height="11.440" fill="#100788"/>
<rect x="425.610" y="296.930" width="12.957" height="11.440" fill="#e56a5d"/>
<rect x="166.85" y="67.95" width="271.70" height="240.35" fill="none" stroke="#000" stroke-width="1.8"/>
<line x1="161.8" x2="166.85" y1="73.85" y2="73.85" stroke="#000" stroke-width="1.6"/>
<text x="66.90" y="77.05" font-size="11.5" textLength="89.80" lengthAdjust="spacingAndGlyphs">Band neutrophils</text>
<line x1="161.8" x2="166.85" y1="85.29" y2="85.29" stroke="#000" stroke-width="1.6"/>
<text x="32.60" y="88.49" font-size="11.5" textLength="124.10" lengthAdjust="spacingAndGlyphs">Segmented neutrophils</text>
<line x1="161.8" x2="166.85" y1="96.73" y2="96.73" stroke="#000" stroke-width="1.6"/>
<text x="87.30" y="99.93" font-size="11.5" textLength="69.40" lengthAdjust="spacingAndGlyphs">Lymphocytes</text>
<line x1="161.8" x2="166.85" y1="108.17" y2="108.17" stroke="#000" stroke-width="1.6"/>
<text x="98.60" y="111.37" font-size="11.5" textLength="58.10" lengthAdjust="spacingAndGlyphs">Monocytes</text>
<line x1="161.8" x2="166.85" y1="119.61" y2="119.61" stroke="#000" stroke-width="1.6"/>
<text x="98.10" y="122.81" font-size="11.5" textLength="58.60" lengthAdjust="spacingAndGlyphs">Eosinophils</text>
<line x1="161.8" x2="166.85" y1="131.05" y2="131.05" stroke="#000" stroke-width="1.6"/>
<text x="107.50" y="134.25" font-size="11.5" textLength="49.20" lengthAdjust="spacingAndGlyphs">Basophils</text>
<line x1="161.8" x2="166.85" y1="142.49" y2="142.49" stroke="#000" stroke-width="1.6"/>
<text x="70.60" y="145.69" font-size="11.5" textLength="86.10" lengthAdjust="spacingAndGlyphs">Metamyelocytes</text>
<line x1="161.8" x2="166.85" y1="153.93" y2="153.93" stroke="#000" stroke-width="1.6"/>
<text x="98.10" y="157.13" font-size="11.5" textLength="58.60" lengthAdjust="spacingAndGlyphs">Myelocytes</text>
<line x1="161.8" x2="166.85" y1="165.37" y2="165.37" stroke="#000" stroke-width="1.6"/>
<text x="79.80" y="168.57" font-size="11.5" textLength="76.90" lengthAdjust="spacingAndGlyphs">Promyelocytes</text>
<line x1="161.8" x2="166.85" y1="176.81" y2="176.81" stroke="#000" stroke-width="1.6"/>
<text x="127.20" y="180.01" font-size="11.5" textLength="29.50" lengthAdjust="spacingAndGlyphs">Blasts</text>
<line x1="161.8" x2="166.85" y1="188.25" y2="188.25" stroke="#000" stroke-width="1.6"/>
<text x="94.00" y="191.45" font-size="11.5" textLength="62.70" lengthAdjust="spacingAndGlyphs">Plasma cells</text>
<line x1="161.8" x2="166.85" y1="199.69" y2="199.69" stroke="#000" stroke-width="1.6"/>
<text x="86.50" y="202.89" font-size="11.5" textLength="70.20" lengthAdjust="spacingAndGlyphs">Smudge cells</text>
<line x1="161.8" x2="166.85" y1="211.13" y2="211.13" stroke="#000" stroke-width="1.6"/>
<text x="100.00" y="214.33" font-size="11.5" textLength="56.70" lengthAdjust="spacingAndGlyphs">Other cells</text>
<line x1="161.8" x2="166.85" y1="222.57" y2="222.57" stroke="#000" stroke-width="1.6"/>
<text x="109.70" y="225.77" font-size="11.5" textLength="47.00" lengthAdjust="spacingAndGlyphs">Artefacts</text>
<line x1="161.8" x2="166.85" y1="234.01" y2="234.01" stroke="#000" stroke-width="1.6"/>
<text x="74.70" y="237.21" font-size="11.5" textLength="82.00" lengthAdjust="spacingAndGlyphs">Not identifiable</text>
<line x1="161.8" x2="166.85" y1="245.45" y2="245.45" stroke="#000" stroke-width="1.6"/>
<text x="70.30" y="248.65" font-size="11.5" textLength="86.40" lengthAdjust="spacingAndGlyphs">Proerythroblasts</text>
<line x1="161.8" x2="166.85" y1="256.89" y2="256.89" stroke="#000" stroke-width="1.6"/>
<text x="88.70" y="260.09" font-size="11.5" textLength="68.00" lengthAdjust="spacingAndGlyphs">Erythroblasts</text>
<line x1="161.8" x2="166.85" y1="268.33" y2="268.33" stroke="#000" stroke-width="1.6"/>
<text x="104.00" y="271.53" font-size="11.5" textLength="52.70" lengthAdjust="spacingAndGlyphs">Hairy cells</text>
<line x1="161.8" x2="166.85" y1="279.77" y2="279.77" stroke="#000" stroke-width="1.6"/>
<text x="42.10" y="282.97" font-size="11.5" textLength="114.60" lengthAdjust="spacingAndGlyphs">Abnormal eosinophils</text>
<line x1="161.8" x2="166.85" y1="291.21" y2="291.21" stroke="#000" stroke-width="1.6"/>
<text x="35.60" y="294.41" font-size="11.5" textLength="121.10" lengthAdjust="spacingAndGlyphs">Immature lymphocytes</text>
<line x1="161.8" x2="166.85" y1="302.65" y2="302.65" stroke="#000" stroke-width="1.6"/>
<text x="92.70" y="305.85" font-size="11.5" textLength="64.00" lengthAdjust="spacingAndGlyphs">Faggot cells</text>
<line x1="172.95" x2="172.95" y1="308.3" y2="313.1" stroke="#000" stroke-width="1.6"/>
<text transform="translate(176.20,317.7) rotate(-90)" x="0" y="0" font-size="11.5" text-anchor="end" textLength="89.80" lengthAdjust="spacingAndGlyphs">Band neutrophils</text>
<line x1="185.91" x2="185.91" y1="308.3" y2="313.1" stroke="#000" stroke-width="1.6"/>
<text transform="translate(189.16,317.7) rotate(-90)" x="0" y="0" font-size="11.5" text-anchor="end" textLength="124.10" lengthAdjust="spacingAndGlyphs">Segmented neutrophils</text>
<line x1="198.86" x2="198.86" y1="308.3" y2="313.1" stroke="#000" stroke-width="1.6"/>
<text transform="translate(202.11,317.7) rotate(-90)" x="0" y="0" font-size="11.5" text-anchor="end" textLength="69.40" lengthAdjust="spacingAndGlyphs">Lymphocytes</text>
<line x1="211.82" x2="211.82" y1="308.3" y2="313.1" stroke="#000" stroke-width="1.6"/>
<text transform="translate(215.07,317.7) rotate(-90)" x="0" y="0" font-size="11.5" text-anchor="end" textLength="58.10" lengthAdjust="spacingAndGlyphs">Monocytes</text>
<line x1="224.78" x2="224.78" y1="308.3" y2="313.1" stroke="#000" stroke-width="1.6"/>
<text transform="translate(228.03,317.7) rotate(-90)" x="0" y="0" font-size="11.5" text-anchor="end" textLength="58.60" lengthAdjust="spacingAndGlyphs">Eosinophils</text>
<line x1="237.73" x2="237.73" y1="308.3" y2="313.1" stroke="#000" stroke-width="1.6"/>
<text transform="translate(240.98,317.7) rotate(-90)" x="0" y="0" font-size="11.5" text-anchor="end" textLength="49.20" lengthAdjust="spacingAndGlyphs">Basophils</text>
<line x1="250.69" x2="250.69" y1="308.3" y2="313.1" stroke="#000" stroke-width="1.6"/>
<text transform="translate(253.94,317.7) rotate(-90)" x="0" y="0" font-size="11.5" text-anchor="end" textLength="86.10" lengthAdjust="spacingAndGlyphs">Metamyelocytes</text>
<line x1="263.65" x2="263.65" y1="308.3" y2="313.1" stroke="#000" stroke-width="1.6"/>
<text transform="translate(266.90,317.7) rotate(-90)" x="0" y="0" font-size="11.5" text-anchor="end" textLength="58.60" lengthAdjust="spacingAndGlyphs">Myelocytes</text>
<line x1="276.60" x2="276.60" y1="308.3" y2="313.1" stroke="#000" stroke-width="1.6"/>
<text transform="translate(279.85,317.7) rotate(-90)" x="0" y="0" font-size="11.5" text-anchor="end" textLength="76.90" lengthAdjust="spacingAndGlyphs">Promyelocytes</text>
<line x1="289.56" x2="289.56" y1="308.3" y2="313.1" stroke="#000" stroke-width="1.6"/>
<text transform="translate(292.81,317.7) rotate(-90)" x="0" y="0" font-size="11.5" text-anchor="end" textLength="29.50" lengthAdjust="spacingAndGlyphs">Blasts</text>
<line x1="302.52" x2="302.52" y1="308.3" y2="313.1" stroke="#000" stroke-width="1.6"/>
<text transform="translate(305.77,317.7) rotate(-90)" x="0" y="0" font-size="11.5" text-anchor="end" textLength="62.70" lengthAdjust="spacingAndGlyphs">Plasma cells</text>
<line x1="315.48" x2="315.48" y1="308.3" y2="313.1" stroke="#000" stroke-width="1.6"/>
<text transform="translate(318.73,317.7) rotate(-90)" x="0" y="0" font-size="11.5" text-anchor="end" textLength="70.20" lengthAdjust="spacingAndGlyphs">Smudge cells</text>
<line x1="328.43" x2="328.43" y1="308.3" y2="313.1" stroke="#000" stroke-width="1.6"/>
<text transform="translate(331.68,317.7) rotate(-90)" x="0" y="0" font-size="11.5" text-anchor="end" textLength="56.70" lengthAdjust="spacingAndGlyphs">Other cells</text>
<line x1="341.39" x2="341.39" y1="308.3" y2="313.1" stroke="#000" stroke-width="1.6"/>
<text transform="translate(344.64,317.7) rotate(-90)" x="0" y="0" font-size="11.5" text-anchor="end" textLength="47.00" lengthAdjust="spacingAndGlyphs">Artefacts</text>
<line x1="354.35" x2="354.35" y1="308.3" y2="313.1" stroke="#000" stroke-width="1.6"/>
<text transform="translate(357.60,317.7) rotate(-90)" x="0" y="0" font-size="11.5" text-anchor="end" textLength="82.00" lengthAdjust="spacingAndGlyphs">Not identifiable</text>
<line x1="367.30" x2="367.30" y1="308.3" y2="313.1" stroke="#000" stroke-width="1.6"/>
<text transform="translate(370.55,317.7) rotate(-90)" x="0" y="0" font-size="11.5" text-anchor="end" textLength="86.40" lengthAdjust="spacingAndGlyphs">Proerythroblasts</text>
<line x1="380.26" x2="380.26" y1="308.3" y2="313.1" stroke="#000" stroke-width="1.6"/>
<text transform="translate(383.51,317.7) rotate(-90)" x="0" y="0" font-size="11.5" text-anchor="end" textLength="68.00" lengthAdjust="spacingAndGlyphs">Erythroblasts</text>
<line x1="393.22" x2="393.22" y1="308.3" y2="313.1" stroke="#000" stroke-width="1.6"/>
<text transform="translate(396.47,317.7) rotate(-90)" x="0" y="0" font-size="11.5" text-anchor="end" textLength="52.70" lengthAdjust="spacingAndGlyphs">Hairy cells</text>
<line x1="406.17" x2="406.17" y1="308.3" y2="313.1" stroke="#000" stroke-width="1.6"/>
<text transform="translate(409.42,317.7) rotate(-90)" x="0" y="0" font-size="11.5" text-anchor="end" textLength="114.60" lengthAdjust="spacingAndGlyphs">Abnormal eosinophils</text>
<line x1="419.13" x2="419.13" y1="308.3" y2="313.1" stroke="#000" stroke-width="1.6"/>
<text transform="translate(422.38,317.7) rotate(-90)" x="0" y="0" font-size="11.5" text-anchor="end" textLength="121.10" lengthAdjust="spacingAndGlyphs">Immature lymphocytes</text>
<line x1="432.09" x2="432.09" y1="308.3" y2="313.1" stroke="#000" stroke-width="1.6"/>
<text transform="translate(435.34,317.7) rotate(-90)" x="0" y="0" font-size="11.5" text-anchor="end" textLength="64.00" lengthAdjust="spacingAndGlyphs">Faggot cells</text>
<text transform="translate(23.7,228.7) rotate(-90)" font-size="13.7" textLength="77.6" lengthAdjust="spacingAndGlyphs">Examiner label</text>
<text x="255.4" y="462.3" font-size="13.7" textLength="94.6" lengthAdjust="spacingAndGlyphs">Network prediction</text>
<rect x="452.05" y="69.20" width="45.25" height="9.3" fill="#c41430"/>
<line x1="446.8" x2="452.05" y1="73.85" y2="73.85" stroke="#000" stroke-width="1.6"/>
<rect x="452.05" y="80.64" width="51.85" height="9.3" fill="#c41430"/>
<line x1="446.8" x2="452.05" y1="85.29" y2="85.29" stroke="#000" stroke-width="1.6"/>
<rect x="452.05" y="92.08" width="51.05" height="9.3" fill="#c41430"/>
<line x1="446.8" x2="452.05" y1="96.73" y2="96.73" stroke="#000" stroke-width="1.6"/>
<rect x="452.05" y="103.52" width="40.15" height="9.3" fill="#c41430"/>
<line x1="446.8" x2="452.05" y1="108.17" y2="108.17" stroke="#000" stroke-width="1.6"/>
<rect x="452.05" y="114.96" width="42.25" height="9.3" fill="#c41430"/>
<line x1="446.8" x2="452.05" y1="119.61" y2="119.61" stroke="#000" stroke-width="1.6"/>
<rect x="452.05" y="126.40" width="26.85" height="9.3" fill="#c41430"/>
<line x1="446.8" x2="452.05" y1="131.05" y2="131.05" stroke="#000" stroke-width="1.6"/>
<rect x="452.05" y="137.84" width="38.15" height="9.3" fill="#c41430"/>
<line x1="446.8" x2="452.05" y1="142.49" y2="142.49" stroke="#000" stroke-width="1.6"/>
<rect x="452.05" y="149.28" width="43.05" height="9.3" fill="#c41430"/>
<line x1="446.8" x2="452.05" y1="153.93" y2="153.93" stroke="#000" stroke-width="1.6"/>
<rect x="452.05" y="160.72" width="46.65" height="9.3" fill="#c41430"/>
<line x1="446.8" x2="452.05" y1="165.37" y2="165.37" stroke="#000" stroke-width="1.6"/>
<rect x="452.05" y="172.16" width="46.65" height="9.3" fill="#c41430"/>
<line x1="446.8" x2="452.05" y1="176.81" y2="176.81" stroke="#000" stroke-width="1.6"/>
<rect x="452.05" y="183.60" width="43.95" height="9.3" fill="#c41430"/>
<line x1="446.8" x2="452.05" y1="188.25" y2="188.25" stroke="#000" stroke-width="1.6"/>
<rect x="452.05" y="195.04" width="12.65" height="9.3" fill="#c41430"/>
<line x1="446.8" x2="452.05" y1="199.69" y2="199.69" stroke="#000" stroke-width="1.6"/>
<rect x="452.05" y="206.48" width="23.95" height="9.3" fill="#c41430"/>
<line x1="446.8" x2="452.05" y1="211.13" y2="211.13" stroke="#000" stroke-width="1.6"/>
<rect x="452.05" y="217.92" width="49.65" height="9.3" fill="#c41430"/>
<line x1="446.8" x2="452.05" y1="222.57" y2="222.57" stroke="#000" stroke-width="1.6"/>
<rect x="452.05" y="229.36" width="39.15" height="9.3" fill="#c41430"/>
<line x1="446.8" x2="452.05" y1="234.01" y2="234.01" stroke="#000" stroke-width="1.6"/>
<rect x="452.05" y="240.80" width="37.75" height="9.3" fill="#c41430"/>
<line x1="446.8" x2="452.05" y1="245.45" y2="245.45" stroke="#000" stroke-width="1.6"/>
<rect x="452.05" y="252.24" width="51.55" height="9.3" fill="#c41430"/>
<line x1="446.8" x2="452.05" y1="256.89" y2="256.89" stroke="#000" stroke-width="1.6"/>
<rect x="452.05" y="263.68" width="26.25" height="9.3" fill="#c41430"/>
<line x1="446.8" x2="452.05" y1="268.33" y2="268.33" stroke="#000" stroke-width="1.6"/>
<rect x="452.05" y="275.12" width="2.45" height="9.3" fill="#c41430"/>
<line x1="446.8" x2="452.05" y1="279.77" y2="279.77" stroke="#000" stroke-width="1.6"/>
<rect x="452.05" y="286.56" width="14.95" height="9.3" fill="#c41430"/>
<line x1="446.8" x2="452.05" y1="291.21" y2="291.21" stroke="#000" stroke-width="1.6"/>
<rect x="452.05" y="298.00" width="12.85" height="9.3" fill="#c41430"/>
<line x1="446.8" x2="452.05" y1="302.65" y2="302.65" stroke="#000" stroke-width="1.6"/>
<rect x="452.05" y="68.15" width="54.45" height="240.05" fill="none" stroke="#000" stroke-width="1.8"/>
<line x1="452.37" x2="452.37" y1="308.2" y2="310.60" stroke="#000" stroke-width="1.2"/>
<line x1="453.32" x2="453.32" y1="308.2" y2="310.60" stroke="#000" stroke-width="1.2"/>
<line x1="454.13" x2="454.13" y1="308.2" y2="310.60" stroke="#000" stroke-width="1.2"/>
<line x1="454.85" x2="454.85" y1="308.2" y2="310.60" stroke="#000" stroke-width="1.2"/>
<line x1="455.50" x2="455.50" y1="308.2" y2="313.20" stroke="#000" stroke-width="1.2"/>
<line x1="459.74" x2="459.74" y1="308.2" y2="310.60" stroke="#000" stroke-width="1.2"/>
<line x1="462.23" x2="462.23" y1="308.2" y2="310.60" stroke="#000" stroke-width="1.2"/>
<line x1="463.99" x2="463.99" y1="308.2" y2="310.60" stroke="#000" stroke-width="1.2"/>
<line x1="465.36" x2="465.36" y1="308.2" y2="310.60" stroke="#000" stroke-width="1.2"/>
<line x1="466.47" x2="466.47" y1="308.2" y2="310.60" stroke="#000" stroke-width="1.2"/>
<line x1="467.42" x2="467.42" y1="308.2" y2="310.60" stroke="#000" stroke-width="1.2"/>
<line x1="468.23" x2="468.23" y1="308.2" y2="310.60" stroke="#000" stroke-width="1.2"/>
<line x1="468.95" x2="468.95" y1="308.2" y2="310.60" stroke="#000" stroke-width="1.2"/>
<line x1="469.60" x2="469.60" y1="308.2" y2="313.20" stroke="#000" stroke-width="1.2"/>
<line x1="473.84" x2="473.84" y1="308.2" y2="310.60" stroke="#000" stroke-width="1.2"/>
<line x1="476.33" x2="476.33" y1="308.2" y2="310.60" stroke="#000" stroke-width="1.2"/>
<line x1="478.09" x2="478.09" y1="308.2" y2="310.60" stroke="#000" stroke-width="1.2"/>
<line x1="479.46" x2="479.46" y1="308.2" y2="310.60" stroke="#000" stroke-width="1.2"/>
<line x1="480.57" x2="480.57" y1="308.2" y2="310.60" stroke="#000" stroke-width="1.2"/>
<line x1="481.52" x2="481.52" y1="308.2" y2="310.60" stroke="#000" stroke-width="1.2"/>
<line x1="482.33" x2="482.33" y1="308.2" y2="310.60" stroke="#000" stroke-width="1.2"/>
<line x1="483.05" x2="483.05" y1="308.2" y2="310.60" stroke="#000" stroke-width="1.2"/>
<line x1="483.70" x2="483.70" y1="308.2" y2="313.20" stroke="#000" stroke-width="1.2"/>
<line x1="487.94" x2="487.94" y1="308.2" y2="310.60" stroke="#000" stroke-width="1.2"/>
<line x1="490.43" x2="490.43" y1="308.2" y2="310.60" stroke="#000" stroke-width="1.2"/>
<line x1="492.19" x2="492.19" y1="308.2" y2="310.60" stroke="#000" stroke-width="1.2"/>
<line x1="493.56" x2="493.56" y1="308.2" y2="310.60" stroke="#000" stroke-width="1.2"/>
<line x1="494.67" x2="494.67" y1="308.2" y2="310.60" stroke="#000" stroke-width="1.2"/>
<line x1="495.62" x2="495.62" y1="308.2" y2="310.60" stroke="#000" stroke-width="1.2"/>
<line x1="496.43" x2="496.43" y1="308.2" y2="310.60" stroke="#000" stroke-width="1.2"/>
<line x1="497.15" x2="497.15" y1="308.2" y2="310.60" stroke="#000" stroke-width="1.2"/>
<line x1="497.80" x2="497.80" y1="308.2" y2="313.20" stroke="#000" stroke-width="1.2"/>
<line x1="502.04" x2="502.04" y1="308.2" y2="310.60" stroke="#000" stroke-width="1.2"/>
<line x1="504.53" x2="504.53" y1="308.2" y2="310.60" stroke="#000" stroke-width="1.2"/>
<line x1="506.29" x2="506.29" y1="308.2" y2="310.60" stroke="#000" stroke-width="1.2"/>
<text x="462.70" y="326.75" font-size="11.9">10</text>
<text x="475.60" y="321.5" font-size="9">2</text>
<text x="490.90" y="326.75" font-size="11.9">10</text>
<text x="503.80" y="321.5" font-size="9">4</text>
<text x="479.2" y="347.1" font-size="13" text-anchor="middle" textLength="52.8" lengthAdjust="spacingAndGlyphs">Number of</text>
<text x="478.7" y="364.4" font-size="13" text-anchor="middle" textLength="50" lengthAdjust="spacingAndGlyphs">single-cell</text>
<text x="478.85" y="381.3" font-size="13" text-anchor="middle" textLength="35.7" lengthAdjust="spacingAndGlyphs">images</text>
<rect x="1" y="1" width="518" height="472" fill="none" stroke="#000" stroke-width="2"/>
</svg></body></html>
